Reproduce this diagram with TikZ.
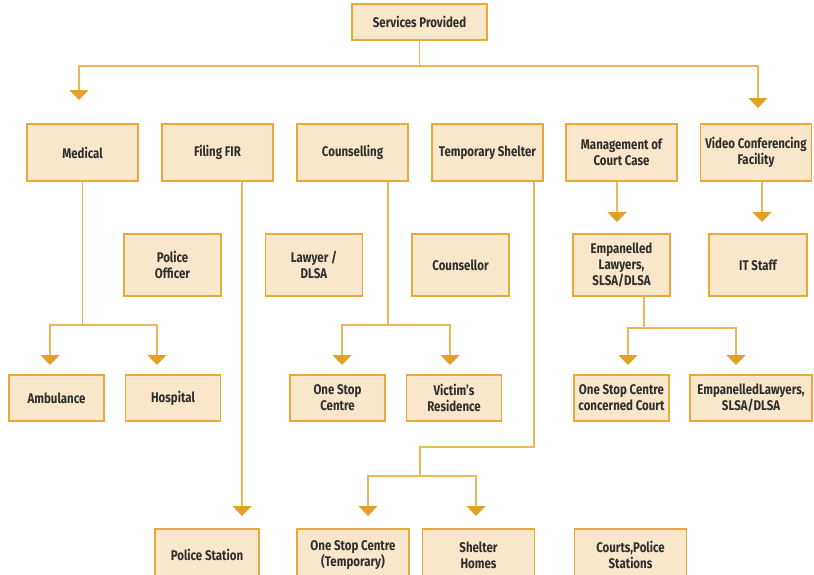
\documentclass[tikz,border=0pt]{standalone}
\usepackage{fontspec}
\setmainfont{Fira Sans}[FakeStretch=0.82]
\usepackage{tikz}
\usetikzlibrary{arrows.meta}

\begin{document}
\begin{tikzpicture}[x=1pt, y=-1pt]
        \definecolor{crem}{HTML}{F8E7CB}
        \definecolor{portocaliu}{HTML}{E9A93A}
        \definecolor{linie}{HTML}{EDB65A}
        \definecolor{varf}{HTML}{E2A024}
        \definecolor{gri}{HTML}{2E2E2E}
        \tikzset{
            cutie/.style={draw=portocaliu, fill=crem, line width=1.2pt, text=gri, align=center,
                font=\fontsize{14}{16}\selectfont\bfseries, inner sep=0pt},
            sus/.style={cutie, minimum width=111pt, minimum height=57pt},
            mijloc/.style={cutie, minimum width=97pt, minimum height=62pt},
            jos/.style={cutie, minimum width=95pt, minimum height=46pt},
            baza/.style={cutie, minimum width=112pt, minimum height=52pt},
            fir/.style={draw=linie, line width=1.3pt},
            sageata/.style={fir, -{Triangle[width=19pt, length=10pt, color=varf]}}
        }
        \clip (0,0) rectangle (814,574);

        \node[cutie, minimum width=135pt, minimum height=36pt] (servicii) at (419.5,22) {Services Provided};

        \node[sus] (medical) at (82.5,152.5) {Medical};
        \node[sus] (fir) at (217.5,152.5) {Filing FIR};
        \node[sus] (consiliere) at (352.5,152.5) {Counselling};
        \node[sus] (adapost) at (487.5,152.5) {Temporary Shelter};
        \node[sus] (curte) at (621.5,152.5) {Management of\\Court Case};
        \node[sus] (video) at (756,152.5) {Video Conferencing\\Facility};

        \node[mijloc] (politist) at (172.5,265) {Police\\Officer};
        \node[mijloc] (avocat) at (314,265) {Lawyer /\\DLSA};
        \node[mijloc] (consilier) at (460.5,265) {Counsellor};
        \node[mijloc] (avocati) at (621.5,265) {Empanelled\\Lawyers,\\SLSA/DLSA};
        \node[mijloc, minimum width=98pt] (it) at (758,265) {IT Staff};

        \node[jos] (ambulanta) at (56.5,398) {Ambulance};
        \node[jos] (spital) at (173,398) {Hospital};
        \node[jos] (centru) at (337.5,398) {One Stop\\Centre};
        \node[jos] (victima) at (454,398) {Victim’s\\Residence};
        \node[jos] (instanta) at (621.5,398) {One Stop Centre\\concerned Court};
        \node[jos, minimum width=122pt] (avocati2) at (751,398) {EmpanelledLawyers,\\SLSA/DLSA};

        \node[baza, minimum width=104pt] (sectie) at (207,555) {Police Station};
        \node[baza] (centrutemp) at (353,555) {One Stop Centre\\(Temporary)};
        \node[baza] (camine) at (478.5,555) {Shelter\\Homes};
        \node[baza] (tribunale) at (630.5,555) {Courts,Police\\Stations};

        \coordinate (ramura) at (419.5,66);
        \coordinate (vmedical) at (79,100);
        \coordinate (vvideo) at (758,108);
        \coordinate (furca1) at (82.5,325);
        \coordinate (vambulanta) at (50,365);
        \coordinate (vspital) at (157,365);
        \coordinate (vsectie) at (242,516);
        \coordinate (furca2) at (388,325);
        \coordinate (vcentru) at (342,365);
        \coordinate (vvictima) at (450,365);
        \coordinate (cot) at (534,447);
        \coordinate (furca3) at (420,476);
        \coordinate (vcentrutemp) at (368,516);
        \coordinate (vcamine) at (476,516);
        \coordinate (vavocati) at (617,222);
        \coordinate (vit) at (762,222);
        \coordinate (furca4) at (644,328);
        \coordinate (vinstanta) at (628,365);
        \coordinate (vavocati2) at (736,365);

        \draw[fir] (servicii.south) -- (ramura);
        \draw[sageata] (ramura) -| (vmedical);
        \draw[sageata] (ramura) -| (vvideo);

        \draw[fir] (medical.south) -- (furca1);
        \draw[sageata] (furca1) -| (vambulanta);
        \draw[sageata] (furca1) -| (vspital);

        \draw[sageata] (fir.south -| vsectie) -- (vsectie);

        \draw[fir] (consiliere.south -| furca2) -- (furca2);
        \draw[sageata] (furca2) -| (vcentru);
        \draw[sageata] (furca2) -| (vvictima);

        \draw[fir] (adapost.south -| cot) -- (cot) -| (furca3);
        \draw[sageata] (furca3) -| (vcentrutemp);
        \draw[sageata] (furca3) -| (vcamine);

        \draw[sageata] (curte.south -| vavocati) -- (vavocati);
        \draw[sageata] (video.south -| vit) -- (vit);

        \draw[fir] (avocati.south -| furca4) -- (furca4);
        \draw[sageata] (furca4) -| (vinstanta);
        \draw[sageata] (furca4) -| (vavocati2);
\end{tikzpicture}
\end{document}
